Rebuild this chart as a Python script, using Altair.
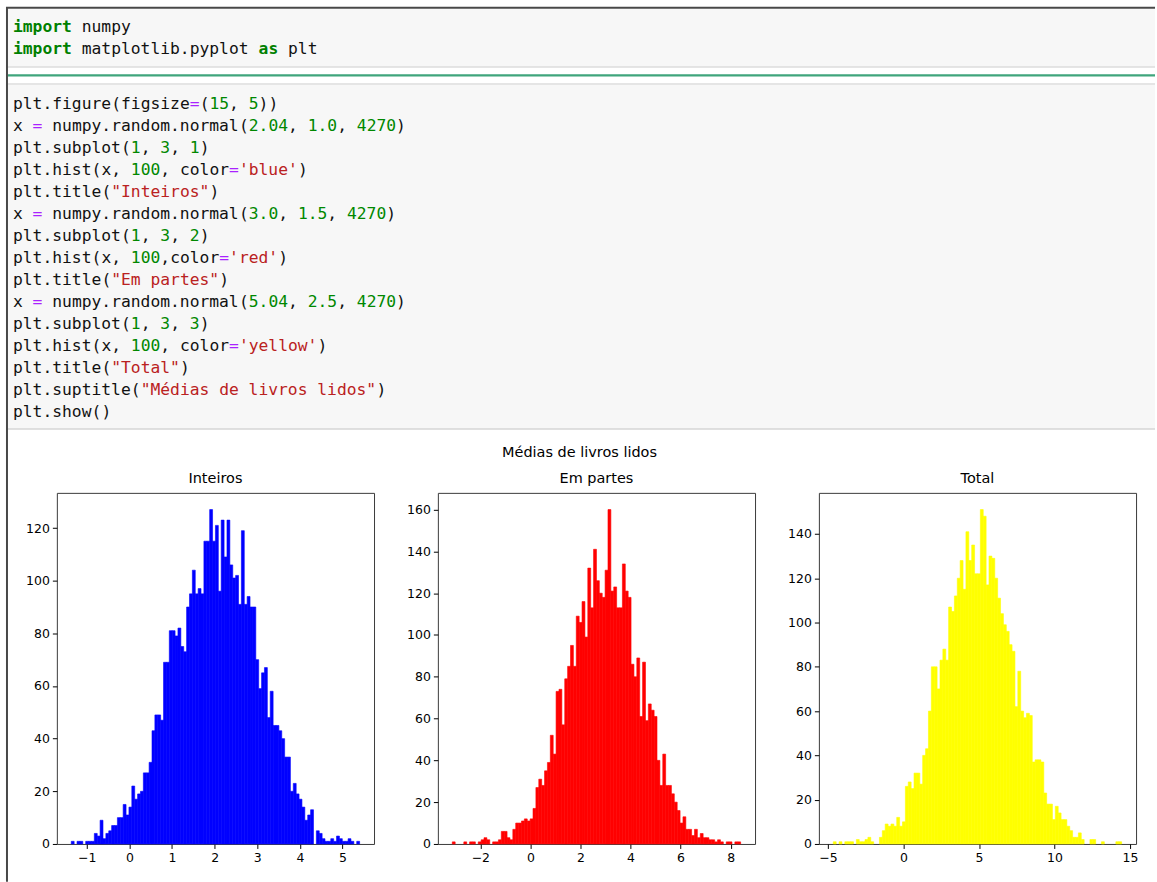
import re
import altair as alt
import numpy as np
import pandas as pd

# ---------------- code cell text ----------------
cell1_lines = ["import numpy", "import matplotlib.pyplot as plt"]
cell2_lines = [
    "plt.figure(figsize=(15, 5))",
    "x = numpy.random.normal(2.04, 1.0, 4270)",
    "plt.subplot(1, 3, 1)",
    "plt.hist(x, 100, color='blue')",
    "plt.title(\"Inteiros\")",
    "x = numpy.random.normal(3.0, 1.5, 4270)",
    "plt.subplot(1, 3, 2)",
    "plt.hist(x, 100,color='red')",
    "plt.title(\"Em partes\")",
    "x = numpy.random.normal(5.04, 2.5, 4270)",
    "plt.subplot(1, 3, 3)",
    "plt.hist(x, 100, color='yellow')",
    "plt.title(\"Total\")",
    "plt.suptitle(\"Médias de livros lidos\")",
    "plt.show()",
]

# ---------------- histogram data ----------------
suptitle = "Médias de livros lidos"
panel_titles = ["Inteiros", "Em partes", "Total"]
panel_colors = ["#0000ff", "#ff0000", "#ffff00"]

inteiros_range = [-1.364, 5.40]
inteiros_counts = [
    1, 0, 1, 1, 0, 1, 1, 1, 4, 3, 9, 2, 4, 5, 7, 7, 10, 10, 15, 11, 14, 22, 17, 19, 20,
    27, 27, 31, 43, 49, 49, 47, 69, 69, 81, 81, 79, 82, 75, 73, 90, 95, 104, 95, 97, 95,
    115, 115, 127, 115, 121, 96, 123, 109, 123, 106, 101, 102, 91, 119, 91, 94, 90, 90,
    70, 59, 65, 67, 48, 58, 45, 45, 43, 40, 33, 33, 20, 23, 19, 17, 14, 9, 11, 13, 0, 5,
    4, 2, 1, 1, 2, 1, 3, 2, 1, 1, 2, 1, 0, 1,
]
inteiros_ticks_x = [-1, 0, 1, 2, 3, 4, 5]
inteiros_ticks_y = [0, 20, 40, 60, 80, 100, 120]

partes_range = [-3.12, 8.40]
partes_counts = [
    1, 0, 0, 0, 1, 0, 1, 1, 0, 1, 2, 3, 2, 0, 1, 1, 2, 6, 6, 3, 2, 7, 10, 10, 11, 12, 11,
    12, 17, 27, 31, 28, 35, 39, 52, 43, 73, 74, 57, 79, 85, 95, 85, 109, 106, 116, 99, 132,
    113, 141, 126, 120, 118, 131, 160, 121, 123, 113, 113, 134, 121, 118, 86, 80, 89, 61,
    87, 59, 67, 64, 61, 40, 28, 43, 28, 28, 24, 20, 16, 10, 13, 7, 7, 4, 7, 3, 5, 3, 3, 2,
    2, 1, 2, 1, 0, 1, 1, 0, 1, 1,
]
partes_ticks_x = [-2, 0, 2, 4, 6, 8]
partes_ticks_y = [0, 20, 40, 60, 80, 100, 120, 140, 160]

total_range = [-4.65, 14.45]
total_counts = [
    1, 0, 1, 0, 1, 1, 1, 0, 2, 1, 1, 2, 3, 1, 0, 0, 3, 6, 9, 8, 9, 8, 12, 8, 10, 26, 28, 25,
    32, 32, 27, 40, 43, 60, 80, 80, 70, 83, 88, 83, 107, 105, 112, 120, 128, 115, 141, 128,
    135, 122, 122, 151, 148, 117, 130, 129, 120, 111, 104, 99, 96, 90, 87, 62, 78, 60, 57,
    59, 58, 37, 38, 38, 37, 23, 18, 18, 11, 17, 14, 11, 11, 8, 6, 3, 3, 5, 2, 0, 0, 2, 2, 0,
    0, 1, 0, 0, 0, 0, 1, 1,
]
total_ticks_x = [-5, 0, 5, 10, 15]
total_ticks_y = [0, 20, 40, 60, 80, 100, 120, 140]

# ---------------- layout constants ----------------
W, H = 1157, 882
CODE_H = 428
PANEL_W, PANEL_H = 318, 352
LEFT_GAP, PANEL_GAP = 56, 64
CHAR_W, CODE_X0 = 9.85, 12
LINE_H = 22
FONT = "DejaVu Sans"
MONO = "DejaVu Sans Mono"

# ---------------- tokenising code for colouring ----------------
TOKEN_RE = re.compile(
    r"(?P<str>\"[^\"]*\"|'[^']*')|(?P<kw>\b(?:import|as)\b)|(?P<num>\b\d+(?:\.\d+)?\b)"
    r"|(?P<op>=)|(?P<name>[A-Za-z_][A-Za-z_0-9.]*)|(?P<punct>[^\s])"
)
KIND_COLOR = {"str": "#ba2121", "kw": "#008000", "num": "#008800", "op": "#aa22ff",
              "name": "#111111", "punct": "#111111"}


def tokens(lines):
    rows = []
    for li, line in enumerate(lines):
        for m in TOKEN_RE.finditer(line):
            kind = m.lastgroup
            rows.append({"line": li, "col": m.start(), "tok": m.group(0),
                         "color": KIND_COLOR[kind], "bold": kind == "kw"})
    return pd.DataFrame(rows)


one = alt.Data(values=[{"a": 1}])
code_x = alt.Scale(domain=[-CODE_X0 / CHAR_W, (W - CODE_X0) / CHAR_W], nice=False, zero=False)


def code_text(df, yscale):
    layers = []
    for bold in (False, True):
        sub = df[df["bold"] == bold]
        if len(sub) == 0:
            continue
        layers.append(
            alt.Chart(sub).mark_text(align="left", baseline="middle", font=MONO,
                                     fontSize=CHAR_W / 0.602,
                                     fontWeight="bold" if bold else "normal").encode(
                x=alt.X("col:Q", scale=code_x, axis=None),
                y=alt.Y("line:Q", scale=yscale, axis=None),
                text="tok:N",
                color=alt.Color("color:N", scale=None),
            )
        )
    return layers


def deco_rect(x0, x1, y0, y1, color):
    return alt.Chart(one).mark_rect(color=color).encode(
        x=alt.value(x0), x2=alt.value(x1), y=alt.value(y0), y2=alt.value(y1))


def deco_rule(x0, x1, y0, y1, color, w):
    return alt.Chart(one).mark_rule(color=color, strokeWidth=w).encode(
        x=alt.value(x0), x2=alt.value(x1), y=alt.value(y0), y2=alt.value(y1))


c1 = tokens(cell1_lines)
c2 = tokens(cell2_lines)
# line i of cell 1 centred at 25 + LINE_H*i, of cell 2 at 102.5 + LINE_H*i
y1s = alt.Scale(domain=[0, 1], range=[25, 25 + LINE_H], nice=False, zero=False)
y2s = alt.Scale(domain=[0, 1], range=[102.5, 102.5 + LINE_H], nice=False, zero=False)

code_chart = alt.layer(
    deco_rect(0, W, 0, CODE_H, "white"),
    deco_rect(7, W, 7, 65, "#f7f7f7"),
    deco_rule(7, W, 65, 65, "#dcdcdc", 1.5),
    deco_rule(7, W, 73.5, 73.5, "#3fa57c", 2.2),
    deco_rule(7, W, 82, 82, "#dcdcdc", 1.5),
    deco_rect(7, W, 83, CODE_H, "#f7f7f7"),
    deco_rule(7, W, CODE_H, CODE_H, "#d6d6d6", 1.5),
    deco_rule(5, W, 5.5, 5.5, "#484848", 2),
    deco_rule(6, 6, 5, CODE_H, "#484848", 2),
    *code_text(c1, y1s),
    *code_text(c2, y2s),
).resolve_scale(y="independent").properties(width=W, height=CODE_H)


# ---------------- histogram panels ----------------
def hist_panel(counts, rng, xt, yt, color, title):
    edges = np.linspace(rng[0], rng[1], len(counts) + 1)
    df = pd.DataFrame({"x0": edges[:-1], "x1": edges[1:], "count": counts})
    span = rng[1] - rng[0]
    xs = alt.Scale(domain=[rng[0] - 0.05 * span, rng[1] + 0.05 * span], nice=False, zero=False)
    ys = alt.Scale(domain=[0, max(counts) * 1.05], nice=False, zero=True)
    ax = dict(domain=False, grid=False, ticks=True, tickSize=4.5, tickColor="#000",
              tickWidth=1, labelFontSize=12.5, labelFont=FONT, labelColor="#000",
              labelPadding=3, title=None, format="d", labelFlush=False, labelOverlap=False)
    bars = alt.Chart(df).transform_filter("datum.count > 0").mark_rect(
        color=color, stroke=color, strokeWidth=0.6).encode(
        x=alt.X("x0:Q", scale=xs, axis=alt.Axis(values=xt, **ax)),
        x2="x1:Q",
        y=alt.Y("count:Q", scale=ys, axis=alt.Axis(values=yt, **ax)),
        y2=alt.datum(0),
    )
    return bars.properties(
        width=PANEL_W, height=PANEL_H,
        view=alt.ViewBackground(stroke="#3a3a3a", strokeWidth=1, fill="white"),
        title=alt.TitleParams(title, font=FONT, fontSize=14.5, fontWeight="normal",
                              color="#000", offset=6),
    )


p1 = hist_panel(inteiros_counts, inteiros_range, inteiros_ticks_x, inteiros_ticks_y,
                panel_colors[0], panel_titles[0])
p2 = hist_panel(partes_counts, partes_range, partes_ticks_x, partes_ticks_y,
                panel_colors[1], panel_titles[1])
p3 = hist_panel(total_counts, total_range, total_ticks_x, total_ticks_y,
                panel_colors[2], panel_titles[2])


def spacer(w, border=False, text=None):
    if border:
        m = deco_rule(6, 6, -(492 - CODE_H), H - 492, "#484848", 2)
    elif text is not None:
        # figure-centred suptitle (x = 580, y = 452 on the page)
        m = alt.Chart(one).mark_text(text=text, font=FONT, fontSize=14.5, align="center",
                                     baseline="middle", color="#000").encode(
            x=alt.value(580 - (LEFT_GAP + PANEL_W)), y=alt.value(452 - 492))
    else:
        m = alt.Chart(one).mark_rule(opacity=0).encode(x=alt.value(0), y=alt.value(0))
    return m.properties(width=w, height=PANEL_H)


hist_row = alt.hconcat(spacer(LEFT_GAP, border=True), p1, spacer(PANEL_GAP, text=suptitle), p2,
                       spacer(PANEL_GAP), p3, spacing=0, bounds="flush")

chart = alt.vconcat(code_chart, hist_row, spacing=492 - CODE_H, bounds="flush").properties(
    padding=0, background="white"
).configure_view(stroke="transparent")

chart.save("out.html", embed_options={"renderer": "svg", "actions": False})
